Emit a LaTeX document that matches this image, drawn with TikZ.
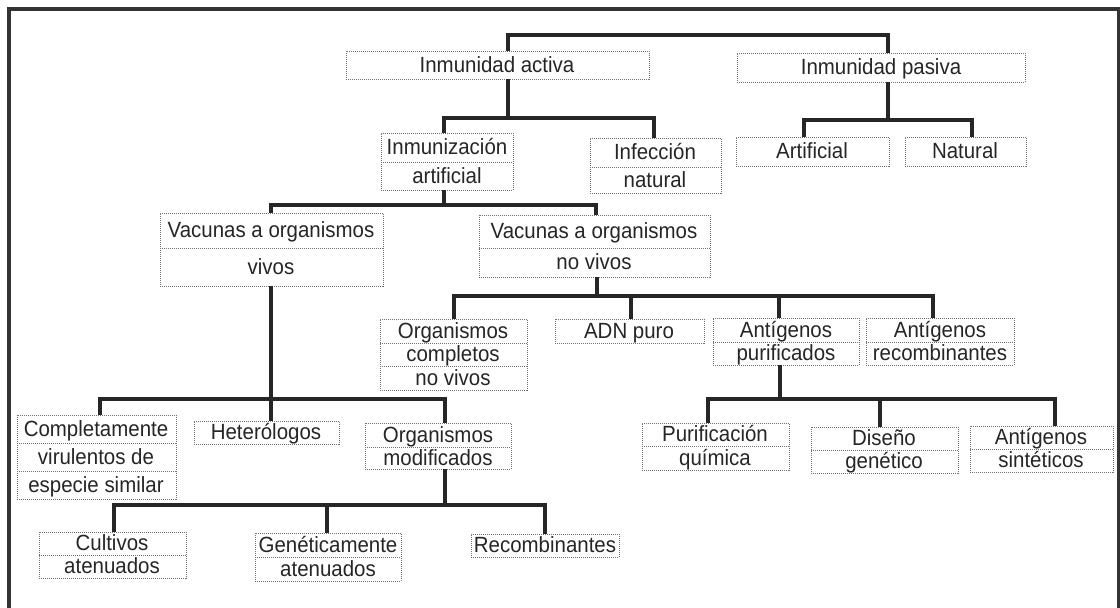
\documentclass[tikz,border=0pt]{standalone}
\usepackage{fontspec}
\setmainfont[FakeStretch=0.93]{Liberation Sans}
\begin{document}
\begin{tikzpicture}[x=1pt,y=-1pt,
  box/.style={draw=black!55, line width=0.8pt, dash pattern=on 1pt off 1pt, inner sep=0pt, outer sep=0pt},
  div/.style={draw=black!55, line width=0.8pt, dash pattern=on 1pt off 1pt},
  txt/.style={inner sep=0pt, anchor=base, text=black!85, font=\fontsize{22}{26}\selectfont},
  conn/.style={draw=black!85, line width=3.6pt, line join=miter},
  frame/.style={draw=black!80, line width=4.8pt, line join=miter}]
\newcommand\Bx[5]{\node[box, anchor=north west, minimum width={#4-#2}, minimum height={#5-#3}] (#1) at (#2,#3) {};}
\newcommand\Tx[4]{\node[txt] (#1) at (#2,{#3+7.2}) {#4};}
\useasboundingbox (0,0) rectangle (1120,608);
\fill[white] (0,0) rectangle (1120,608);
% frame
\draw[frame] (9,612) -- (9,9) -- (1119,9) -- (1119,612);

% boxes
\Bx{act}{346}{51}{649}{79}
\Tx{act1}{497}{65}{Inmunidad activa}
\Bx{pas}{737}{53}{1025}{82}
\Tx{pas1}{881}{67.5}{Inmunidad pasiva}
\Bx{art}{736}{137}{889}{166}
\Tx{art1}{812}{151.5}{Artificial}
\Bx{nat}{905}{137}{1026}{166}
\Tx{nat1}{965}{151.5}{Natural}

\Bx{ia}{381}{133}{513}{190}
\draw[div] (381,162) -- (513,162);
\Tx{ia1}{447}{147.5}{Inmunización}
\Tx{ia2}{447}{176}{artificial}
\Bx{inf}{590}{138}{721}{193}
\draw[div] (590,167) -- (721,167);
\Tx{inf1}{655}{152.5}{Infección}
\Tx{inf2}{655}{180}{natural}

\Bx{vv}{160}{213}{383}{286}
\draw[div] (160,248) -- (383,248);
\Tx{vv1}{271}{230.5}{Vacunas a organismos}
\Tx{vv2}{271}{267}{vivos}
\Bx{vnv}{479}{215}{710}{277}
\draw[div] (479,248) -- (710,248);
\Tx{vnv1}{594}{231.5}{Vacunas a organismos}
\Tx{vnv2}{594}{262.5}{no vivos}

\Bx{oc}{380}{319}{527}{390}
\draw[div] (380,343) -- (527,343);
\draw[div] (380,366) -- (527,366);
\Tx{oc1}{453}{331}{Organismos}
\Tx{oc2}{453}{354.5}{completos}
\Tx{oc3}{453}{378}{no vivos}
\Bx{adn}{555}{319}{704}{343}
\Tx{adn1}{629}{331}{ADN puro}
\Bx{ap}{713}{318}{859}{365}
\draw[div] (713,342) -- (859,342);
\Tx{ap1}{786}{330}{Antígenos}
\Tx{ap2}{786}{353.5}{purificados}
\Bx{ar}{866}{318}{1014}{365}
\draw[div] (866,342) -- (1014,342);
\Tx{ar1}{940}{330}{Antígenos}
\Tx{ar2}{940}{353.5}{recombinantes}

\Bx{cs}{17}{415}{176}{499}
\draw[div] (17,443) -- (176,443);
\draw[div] (17,471) -- (176,471);
\Tx{cs1}{96}{429}{Completamente}
\Tx{cs2}{96}{457}{virulentos de}
\Tx{cs3}{96}{485}{especie similar}
\Bx{het}{194}{421}{339}{444}
\Tx{het1}{266}{432.5}{Heterólogos}
\Bx{om}{365}{423}{511}{469}
\draw[div] (365,447) -- (511,447);
\Tx{om1}{438}{435}{Organismos}
\Tx{om2}{438}{458}{modificados}

\Bx{cult}{39}{532}{186}{578}
\draw[div] (39,555) -- (186,555);
\Tx{cult1}{112}{543.5}{Cultivos}
\Tx{cult2}{112}{566.5}{atenuados}
\Bx{gen}{255}{533}{401}{581}
\draw[div] (255,557) -- (401,557);
\Tx{gen1}{328}{545}{Genéticamente}
\Tx{gen2}{328}{569}{atenuados}
\Bx{rec}{471}{534}{619}{557}
\Tx{rec1}{545}{545.5}{Recombinantes}

\Bx{pq}{642}{423}{789}{470}
\draw[div] (642,446) -- (789,446);
\Tx{pq1}{715}{434.5}{Purificación}
\Tx{pq2}{715}{458}{química}
\Bx{dg}{811}{427}{958}{473}
\draw[div] (811,450) -- (958,450);
\Tx{dg1}{884}{438.5}{Diseño}
\Tx{dg2}{884}{461.5}{genético}
\Bx{sint}{970}{426}{1113}{472}
\draw[div] (970,449) -- (1113,449);
\Tx{sint1}{1041}{437.5}{Antígenos}
\Tx{sint2}{1041}{460.5}{sintéticos}

% connectors
\coordinate (j0a) at (508,35); \coordinate (j0b) at (888,35);
\draw[conn] (act.north -| j0a) -- (j0a) -- (j0b) -- (pas.north -| j0b);

\coordinate (j1s) at (508,118); \coordinate (j1a) at (444,118); \coordinate (j1b) at (654,118);
\draw[conn] (act.south -| j1s) -- (j1s);
\draw[conn] (ia.north -| j1a) -- (j1a) -- (j1b) -- (inf.north -| j1b);

\coordinate (j2s) at (888,120); \coordinate (j2a) at (804,120); \coordinate (j2b) at (972,120);
\draw[conn] (pas.south -| j2s) -- (j2s);
\draw[conn] (art.north -| j2a) -- (j2a) -- (j2b) -- (nat.north -| j2b);

\coordinate (j3s) at (444,205); \coordinate (j3a) at (271,205); \coordinate (j3b) at (596,205);
\draw[conn] (ia.south -| j3s) -- (j3s);
\draw[conn] (vv.north -| j3a) -- (j3a) -- (j3b) -- (vnv.north -| j3b);

\coordinate (j4s) at (597,296); \coordinate (j4a) at (454,296); \coordinate (j4b) at (631,296);
\coordinate (j4c) at (779,296); \coordinate (j4d) at (933,296);
\draw[conn] (vnv.south -| j4s) -- (j4s);
\draw[conn] (oc.north -| j4a) -- (j4a) -- (j4d) -- (ar.north -| j4d);
\draw[conn] (j4b) -- (adn.north -| j4b);
\draw[conn] (j4c) -- (ap.north -| j4c);

\coordinate (j5s) at (271,399); \coordinate (j5a) at (100,399); \coordinate (j5c) at (445,399);
\draw[conn] (vv.south -| j5s) -- (j5s);
\draw[conn] (cs.north -| j5a) -- (j5a) -- (j5c) -- (om.north -| j5c);
\draw[conn] (j5s) -- (het.north -| j5s);

\coordinate (j6s) at (445,505); \coordinate (j6a) at (114,505); \coordinate (j6b) at (327,505); \coordinate (j6c) at (545,505);
\draw[conn] (om.south -| j6s) -- (j6s);
\draw[conn] (cult.north -| j6a) -- (j6a) -- (j6c) -- (rec.north -| j6c);
\draw[conn] (j6b) -- (gen.north -| j6b);

\coordinate (j7s) at (780,399); \coordinate (j7a) at (708,399); \coordinate (j7b) at (880,399); \coordinate (j7c) at (1055,399);
\draw[conn] (ap.south -| j7s) -- (j7s);
\draw[conn] (pq.north -| j7a) -- (j7a) -- (j7c) -- (sint.north -| j7c);
\draw[conn] (j7b) -- (dg.north -| j7b);
\end{tikzpicture}
\end{document}
